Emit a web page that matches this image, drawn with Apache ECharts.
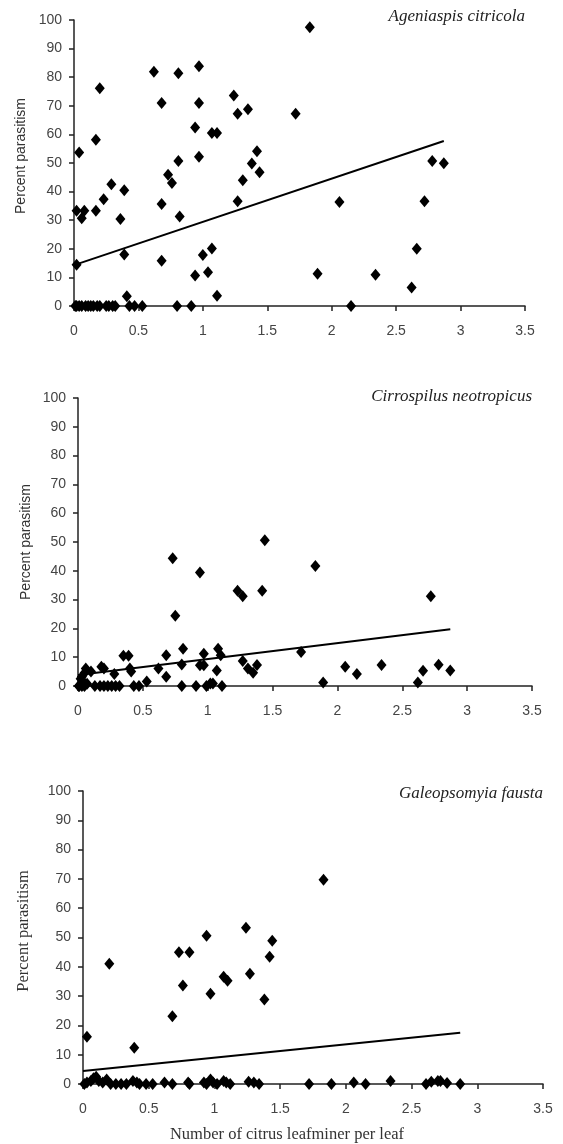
<!DOCTYPE html>
<html><head><meta charset="utf-8">
<script src="https://cdn.jsdelivr.net/npm/echarts@6/dist/echarts.min.js"></script>
<style>html,body{margin:0;padding:0;background:#fff}#c{width:563px;height:1144px}</style>
</head><body><div id="c"></div>
<script>
// ---- tick labels and texts ----
const xTickLabels = ['0', '0.5', '1', '1.5', '2', '2.5', '3', '3.5'];
const yTickLabels = ['0', '10', '20', '30', '40', '50', '60', '70', '80', '90', '100'];
const panelTitles = ['Ageniaspis citricola', 'Cirrospilus neotropicus', 'Galeopsomyia fausta'];
const yAxisTitle = 'Percent parasitism';
const xAxisTitle = 'Number of citrus leafminer per leaf';

// ---- data: [leafminers per leaf, percent parasitism] ----
const ageniaspis = [
  [1.83, 97.5], [0.62, 81.9], [0.81, 81.4], [0.97, 83.8], [0.20, 76.1], [0.68, 71.0], [0.97, 71.0],
  [1.24, 73.6], [1.27, 67.2], [1.35, 68.8], [1.72, 67.2], [0.17, 58.1], [0.94, 62.4], [1.07, 60.5],
  [1.11, 60.5], [0.04, 53.7], [1.42, 54.1], [0.97, 52.2], [0.81, 50.7], [1.38, 49.8], [1.44, 46.8],
  [2.78, 50.7], [2.87, 49.9], [0.73, 45.9], [0.76, 43.0], [1.31, 44.0], [0.29, 42.6], [0.39, 40.5],
  [0.23, 37.3], [0.68, 35.7], [1.27, 36.6], [2.06, 36.4], [2.72, 36.6], [0.02, 33.3], [0.08, 33.3],
  [0.17, 33.3], [0.06, 30.7], [0.36, 30.4], [0.82, 31.3], [1.07, 20.1], [2.66, 20.0], [1.00, 17.8],
  [0.39, 18.0], [0.68, 15.8], [0.02, 14.4], [0.94, 10.7], [1.04, 11.8], [1.89, 11.3], [2.34, 10.9],
  [2.62, 6.5], [0.41, 3.4], [1.11, 3.6], [2.15, 0],
  [0.01, 0], [0.02, 0], [0.04, 0], [0.06, 0], [0.09, 0], [0.11, 0], [0.13, 0], [0.15, 0], [0.18, 0],
  [0.20, 0], [0.25, 0], [0.27, 0], [0.30, 0], [0.32, 0], [0.43, 0], [0.47, 0], [0.53, 0], [0.80, 0], [0.91, 0]
];
const cirrospilus = [
  [1.44, 50.6], [0.73, 44.4], [1.83, 41.7], [0.94, 39.4], [1.23, 33.1], [1.27, 31.2], [1.42, 33.1],
  [2.72, 31.2], [0.75, 24.4], [1.72, 11.8], [0.81, 12.9], [1.08, 12.9], [1.10, 10.7], [0.97, 11.2],
  [0.68, 10.7], [0.35, 10.5], [0.39, 10.5], [0.80, 7.5], [0.94, 7.2], [0.97, 7.2], [1.27, 8.7],
  [1.31, 6.1], [1.35, 4.6], [1.38, 7.3], [1.07, 5.4], [0.62, 6.1], [0.68, 3.2], [0.40, 6.1],
  [0.41, 5.0], [0.53, 1.6], [2.06, 6.7], [2.15, 4.2], [2.34, 7.3], [2.66, 5.3], [2.78, 7.4],
  [2.87, 5.4], [1.89, 1.2], [2.62, 1.2], [0.18, 6.7], [0.20, 6.1], [0.06, 6.1], [0.10, 5.0],
  [0.28, 4.2], [0.03, 3.2], [0.04, 1.5], [0.02, 2.5], [0.05, 4.5], [0.07, 0.8], [1.02, 0.9], [1.04, 0.9],
  [0.005, 0], [0.01, 0], [0.03, 0], [0.05, 0], [0.13, 0], [0.17, 0], [0.20, 0], [0.23, 0], [0.26, 0],
  [0.29, 0], [0.32, 0], [0.43, 0], [0.47, 0], [0.80, 0], [0.91, 0], [0.99, 0], [1.11, 0]
];
const galeopsomyia = [
  [1.83, 69.7], [1.24, 53.3], [0.94, 50.6], [1.44, 48.9], [0.73, 45.0], [0.81, 45.0], [1.42, 43.4],
  [0.20, 41.0], [1.27, 37.6], [1.07, 36.6], [1.10, 35.2], [0.76, 33.6], [0.97, 30.8], [1.38, 28.8],
  [0.68, 23.1], [0.03, 16.1], [0.39, 12.4],
  [0.01, 0], [0.03, 0.5], [0.06, 1.0], [0.08, 2.0], [0.10, 2.5], [0.12, 1.0], [0.15, 0.5], [0.18, 1.5],
  [0.21, 0], [0.25, 0], [0.29, 0], [0.33, 0], [0.38, 1.0], [0.41, 0.5], [0.43, 0], [0.48, 0],
  [0.53, 0], [0.62, 0.5], [0.68, 0], [0.80, 0.5], [0.81, 0], [0.92, 0.5], [0.94, 0], [0.97, 1.5],
  [0.99, 0.5], [1.02, 0], [1.07, 1.0], [1.09, 0.5], [1.12, 0], [1.26, 0.8], [1.30, 0.5], [1.34, 0],
  [1.72, 0], [1.89, 0], [2.06, 0.5], [2.15, 0], [2.34, 1.0], [2.61, 0], [2.65, 0.8], [2.70, 1.0],
  [2.72, 1.0], [2.77, 0.3], [2.87, 0]
];
// fitted trend lines, read at their end points
const ageniaspisTrend = [[0, 14.3], [2.87, 57.7]];
const cirrospilusTrend = [[0, 3.8], [2.87, 19.7]];
const galeopsomyiaTrend = [[0, 4.4], [2.87, 17.5]];

const panels = [
  { data: ageniaspis, trend: ageniaspisTrend, grid: { left: 74, top: 20, width: 451, height: 286 },
    title: [525, 17], yName: [21.5, 156], yNameFont: "14px 'Liberation Sans', Arial, sans-serif" },
  { data: cirrospilus, trend: cirrospilusTrend, grid: { left: 78, top: 398, width: 454, height: 288 },
    title: [532, 397], yName: [26, 542], yNameFont: "14px 'Liberation Sans', Arial, sans-serif" },
  { data: galeopsomyia, trend: galeopsomyiaTrend, grid: { left: 83, top: 791, width: 460, height: 293 },
    title: [543, 794], yName: [24, 931], yNameFont: "16.5px 'Liberation Serif', 'Times New Roman', serif" }
];

const axisColor = '#222';
const labelStyle = { color: '#444', fontSize: 14, fontFamily: "'Liberation Sans', Arial, sans-serif" };

const option = {
  animation: false,
  backgroundColor: '#fff',
  grid: panels.map(p => Object.assign({ containLabel: false }, p.grid)),
  xAxis: panels.map((p, i) => ({
    type: 'value', gridIndex: i, min: 0, max: 3.5, interval: 0.5,
    axisLine: { show: true, onZero: false, lineStyle: { color: axisColor, width: 1.5 } },
    axisTick: { show: true, inside: false, length: 5, lineStyle: { color: axisColor, width: 1.5 } },
    splitLine: { show: false },
    axisLabel: Object.assign({ margin: 18, formatter: v => xTickLabels[Math.round(v / 0.5)] }, labelStyle)
  })),
  yAxis: panels.map((p, i) => ({
    type: 'value', gridIndex: i, min: 0, max: 100, interval: 10,
    axisLine: { show: true, onZero: false, lineStyle: { color: axisColor, width: 1.5 } },
    axisTick: { show: true, inside: false, length: 5, lineStyle: { color: axisColor, width: 1.5 } },
    splitLine: { show: false },
    axisLabel: Object.assign({ margin: 12, formatter: v => yTickLabels[Math.round(v / 10)] }, labelStyle)
  })),
  series: panels.flatMap((p, i) => [
    { type: 'scatter', xAxisIndex: i, yAxisIndex: i, data: p.data, symbol: 'diamond',
      symbolSize: [10, 12], itemStyle: { color: '#000', opacity: 1 }, z: 3 },
    { type: 'line', xAxisIndex: i, yAxisIndex: i, data: p.trend, symbol: 'none',
      lineStyle: { color: '#000', width: 2 }, z: 4 }
  ]),
  graphic: [
    ...panels.map((p, i) => ({
      type: 'text', x: p.title[0], y: p.title[1],
      style: { text: panelTitles[i], fill: '#222', align: 'right', verticalAlign: 'middle',
        font: "italic 17px 'Liberation Serif', 'Times New Roman', serif" }
    })),
    ...panels.map((p, i) => ({
      type: 'text', x: p.yName[0], y: p.yName[1], rotation: Math.PI / 2,
      style: { text: yAxisTitle, fill: '#333', align: 'center', verticalAlign: 'middle', font: p.yNameFont }
    })),
    { type: 'text', x: 287, y: 1135,
      style: { text: xAxisTitle, fill: '#333', align: 'center', verticalAlign: 'middle',
        font: "16.5px 'Liberation Serif', 'Times New Roman', serif" } }
  ]
};

const chart = echarts.init(document.getElementById('c'), null, { renderer: 'canvas' });
chart.setOption(option);
</script>
</body></html>
